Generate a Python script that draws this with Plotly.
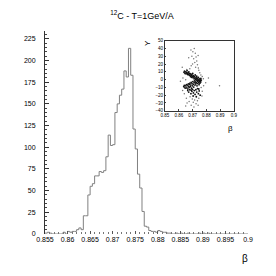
import plotly.graph_objects as go

# ---- main histogram data (bins of 0.0005 starting at 0.855) ----
BIN_START = 0.855
BIN_WIDTH = 0.0005
counts = [1, 2, 1, 0, 0, 0, 0, 0, 2, 0,
          3, 2, 3, 3, 5, 7, 5, 21, 21, 45,
          55, 58, 67, 67, 72, 71, 73, 89, 114, 102,
          103, 140, 150, 160, 167, 188, 181, 214, 183, 121,
          98, 69, 53, 26, 9, 8, 4, 3, 3, 2,
          4, 3, 2, 2, 1, 1, 0, 0, 1, 0,
          1, 0, 0, 1, 0, 0, 0, 0, 1, 0,
          1, 0, 1, 0, 0, 0, 0, 0, 0, 0,
          0, 0, 0, 0, 0, 0, 0, 0, 0, 0]

x_tickvals = [0.855, 0.86, 0.865, 0.87, 0.875, 0.88, 0.885, 0.89, 0.895, 0.9]
x_ticktext = ["0.855", "0.86", "0.865", "0.87", "0.875", "0.88", "0.885", "0.89", "0.895", "0.9"]
y_tickvals = [0, 25, 50, 75, 100, 125, 150, 175, 200, 225]

# ---- inset scatter (beta vs Y) ----
arm_up_x = [0.8638, 0.8642, 0.8645, 0.8650, 0.8653, 0.8656, 0.8660, 0.8662, 0.8665, 0.8668,
            0.8671, 0.8673, 0.8676, 0.8679, 0.8682, 0.8685, 0.8687, 0.8690, 0.8693, 0.8695,
            0.8698, 0.8701, 0.8703, 0.8706, 0.8709, 0.8711, 0.8714, 0.8717, 0.8719, 0.8722,
            0.8725, 0.8728, 0.8730, 0.8733, 0.8736, 0.8739, 0.8742, 0.8745, 0.8748, 0.8751,
            0.8754, 0.8757, 0.8760, 0.8763]
arm_up_y = [9.5, 11, 8, 10, 7.5, 9, 11.5, 8, 6.5, 9,
            7, 10, 5.5, 8, 6, 4, 7.5, 5, 3, 6.5,
            4.5, 8, 2.5, 5, 3.5, 1, 4, 2, 6, 0.5,
            3, 1.5, 4.5, -0.5, 2, 0, 3, -1, 1, -2,
            0.5, -1.5, 1.5, -0.5]
arm_lo_x = [0.8636, 0.8640, 0.8644, 0.8648, 0.8652, 0.8655, 0.8659, 0.8662, 0.8666, 0.8669,
            0.8672, 0.8675, 0.8678, 0.8681, 0.8684, 0.8687, 0.8690, 0.8693, 0.8696, 0.8699,
            0.8702, 0.8705, 0.8708, 0.8711, 0.8714, 0.8717, 0.8720, 0.8723, 0.8726, 0.8729,
            0.8732, 0.8735, 0.8738, 0.8741, 0.8744, 0.8747, 0.8750, 0.8753, 0.8756, 0.8759]
arm_lo_y = [-9, -7.5, -10.5, -8, -11, -6.5, -9.5, -7, -12, -5.5,
            -8.5, -10, -6, -4.5, -9, -7, -3.5, -11, -5, -8,
            -2.5, -6, -9.5, -4, -1.5, -7, -3, -5.5, -0.5, -4,
            -8, -2, -5, -1, -3.5, -6.5, -2.5, -4.5, -1, -3]
blob_x = [0.8665, 0.8672, 0.8680, 0.8688, 0.8695, 0.8700, 0.8706, 0.8712, 0.8718, 0.8724,
          0.8730, 0.8736, 0.8742, 0.8748, 0.8755, 0.8704, 0.8727, 0.8690, 0.8745]
blob_y = [-14, -16, -13, -18, -15, -12.5, -17, -14, -19, -13,
          -16, -11.5, -18, -14.5, -20, -21, -22, -13.5, -12]
halo_x = [0.8688, 0.8702, 0.8712, 0.8720, 0.8695, 0.8708, 0.8725, 0.8730, 0.8716, 0.8700,
          0.8690, 0.8735, 0.8742, 0.8680, 0.8722, 0.8745, 0.8658, 0.8740, 0.8672, 0.8625,
          0.8752, 0.8760, 0.8770, 0.8778, 0.8795, 0.8815, 0.8895, 0.8612, 0.8630, 0.8650,
          0.8660, 0.8675, 0.8690, 0.8705, 0.8715, 0.8725, 0.8735, 0.8745, 0.8698, 0.8682,
          0.8655, 0.8640, 0.8628, 0.8762, 0.8770, 0.8780, 0.8768, 0.8710, 0.8740, 0.8650]
halo_y = [38, 36, 40, 34, 30, 27, 29, 24, 22, 20,
          18, 19, 15, 14, 16, 12, 13, 31, 28, 16,
          9, 6, 4, 1, -4, 2, -8, -2, 2, 0,
          -30, -28, -33, -29, -26, -31, -27, -24, -25, -22,
          -24, -18, -14, -10, -15, -8, -21, -35, -33, -34]

inset_x_tickvals = [0.85, 0.86, 0.87, 0.88, 0.89, 0.9]
inset_x_ticktext = ["0.85", "0.86", "0.87", "0.88", "0.89", "0.9"]
inset_y_tickvals = [50, 40, 30, 20, 10, 0, -10, -20, -30, -40]

edges = [BIN_START + BIN_WIDTH * k for k in range(len(counts) + 1)]
hist_y = counts + [counts[-1]]

FONT = "Liberation Sans, Arial, sans-serif"
fig = go.Figure()
fig.add_trace(go.Scatter(x=edges, y=hist_y, mode="lines", line_shape="hv",
                         line=dict(color="#808080", width=1), hoverinfo="skip",
                         showlegend=False))
fig.add_trace(go.Scatter(x=halo_x, y=halo_y, mode="markers", xaxis="x2", yaxis="y2",
                         marker=dict(size=1.5, color="#777777"), showlegend=False))
fig.add_trace(go.Scatter(x=arm_up_x + arm_lo_x + blob_x, y=arm_up_y + arm_lo_y + blob_y,
                         mode="markers", xaxis="x2", yaxis="y2",
                         marker=dict(size=1.8, color="#111111"), showlegend=False))

# page body has an 8px margin: figure is 268x268 and shifted accordingly
fig.update_layout(
    width=268, height=268,
    margin=dict(l=37, r=28, t=23, b=42),
    paper_bgcolor="white", plot_bgcolor="rgba(0,0,0,0)",
    font=dict(family=FONT, color="#000000", size=7),
    title=dict(text="<sup>12</sup>C - T=1GeV/A", x=0.5, xanchor="center",
               y=1 - 8 / 268, yanchor="middle", font=dict(size=9, color="#000000")),
    xaxis=dict(range=[0.855, 0.9], showgrid=False, zeroline=False, showline=False,
               ticks="inside", ticklen=3, tickcolor="#555555",
               tickvals=x_tickvals, ticktext=x_ticktext,
               minor=dict(dtick=0.001, ticks="inside", ticklen=2, tickcolor="#777777"),
               tickfont=dict(size=7), domain=[0, 1]),
    yaxis=dict(range=[0, 234], showgrid=False, zeroline=False, showline=True,
               linecolor="#333333", linewidth=1,
               ticks="inside", ticklen=4, tickcolor="#333333",
               tickvals=y_tickvals, ticklabelstandoff=7,
               minor=dict(dtick=5, ticks="inside", ticklen=2, tickcolor="#444444"),
               tickfont=dict(size=7), domain=[0, 1]),
    xaxis2=dict(domain=[0.591, 0.931], anchor="y2", range=[0.85, 0.9],
                showgrid=False, zeroline=False, showline=True, mirror=True,
                linecolor="#333333", linewidth=1, ticks="inside", ticklen=1.5,
                tickvals=inset_x_tickvals, ticktext=inset_x_ticktext,
                tickfont=dict(size=4.5)),
    yaxis2=dict(domain=[0.607, 0.952], anchor="x2", range=[-40, 50],
                showgrid=False, zeroline=False, showline=True, mirror=True,
                linecolor="#333333", linewidth=1, ticks="inside", ticklen=1.5,
                tickvals=inset_y_tickvals, tickfont=dict(size=4.5)),
    annotations=[
        dict(text="β", xref="paper", yref="paper", x=(245 - 45) / 203, y=(234 - 258) / 203,
             showarrow=False, font=dict(size=10, color="#000000"), xanchor="center", yanchor="middle"),
        dict(text="β", xref="paper", yref="paper", x=(230 - 45) / 203, y=(234 - 128) / 203,
             showarrow=False, font=dict(size=8, color="#000000"), xanchor="center", yanchor="middle"),
        dict(text="Y", xref="paper", yref="paper", x=(147 - 45) / 203, y=(234 - 43) / 203,
             showarrow=False, font=dict(size=8, color="#000000"), textangle=-90,
             xanchor="center", yanchor="middle"),
    ],
)

fig.write_html("out.html")
